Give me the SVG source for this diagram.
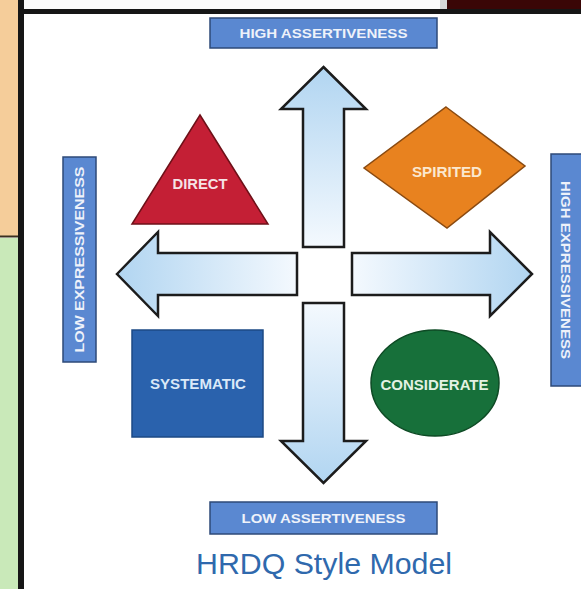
<svg xmlns="http://www.w3.org/2000/svg" width="581" height="589" viewBox="0 0 581 589">
  <style>
    .lbl { fill: #5a88d1; stroke: #2e4a78; stroke-width: 1.5; }
    .lt { font-family: "Liberation Sans", Arial, sans-serif; font-weight: bold; font-size: 13px; fill: #eef2fa; text-anchor: middle; }
    .arrow { stroke: #1c1c1c; stroke-width: 2.5; stroke-linejoin: miter; }
    .st { font-family: "Liberation Sans", Arial, sans-serif; font-weight: bold; font-size: 14px; text-anchor: middle; }
  </style>
  <defs>
    <linearGradient id="gUp" x1="0" y1="1" x2="0" y2="0">
      <stop offset="0" stop-color="#f4f9fe"/>
      <stop offset="1" stop-color="#b1d5f1"/>
    </linearGradient>
    <linearGradient id="gDown" x1="0" y1="0" x2="0" y2="1">
      <stop offset="0" stop-color="#f4f9fe"/>
      <stop offset="1" stop-color="#b1d5f1"/>
    </linearGradient>
    <linearGradient id="gLeft" x1="1" y1="0" x2="0" y2="0">
      <stop offset="0" stop-color="#f4f9fe"/>
      <stop offset="1" stop-color="#b1d5f1"/>
    </linearGradient>
    <linearGradient id="gRight" x1="0" y1="0" x2="1" y2="0">
      <stop offset="0" stop-color="#f4f9fe"/>
      <stop offset="1" stop-color="#b1d5f1"/>
    </linearGradient>
  </defs>

  <!-- background and frame -->
  <rect x="0" y="0" width="581" height="589" fill="#ffffff"/>
  <rect x="0" y="0" width="18" height="236" fill="#f5cd9a"/>
  <rect x="0" y="238" width="18" height="351" fill="#c9e9b9"/>
  <rect x="0" y="235.5" width="18" height="2" fill="#3a3020"/>
  <rect x="24" y="0" width="416" height="9" fill="#fbfbfb"/>
  <rect x="440" y="0" width="7" height="12" fill="#d8d8d8"/>
  <rect x="447" y="0" width="134" height="12" fill="#3a0606"/>
  <rect x="18" y="9" width="563" height="5" fill="#161616"/>
  <rect x="18" y="0" width="6" height="589" fill="#161616"/>

  <!-- axis labels -->
  <g id="high-assertiveness">
    <rect class="lbl" x="210" y="18" width="227" height="30"/>
    <text class="lt" x="323.5" y="38" textLength="168" lengthAdjust="spacingAndGlyphs">HIGH ASSERTIVENESS</text>
  </g>
  <g id="low-assertiveness">
    <rect class="lbl" x="210" y="502" width="227" height="32"/>
    <text class="lt" x="323.5" y="523" textLength="164" lengthAdjust="spacingAndGlyphs">LOW ASSERTIVENESS</text>
  </g>
  <g id="low-expressiveness">
    <rect class="lbl" x="63" y="157" width="33" height="205"/>
    <text class="lt" transform="translate(84,259.5) rotate(-90)" x="0" y="0" textLength="186" lengthAdjust="spacingAndGlyphs">LOW EXPRESSIVENESS</text>
  </g>
  <g id="high-expressiveness">
    <rect class="lbl" x="551" y="154" width="33" height="232"/>
    <text class="lt" transform="translate(561,270) rotate(90)" x="0" y="0" textLength="178" lengthAdjust="spacingAndGlyphs">HIGH EXPRESSIVENESS</text>
  </g>

  <!-- connectors (arrows) -->
  <g id="arrows">
    <polygon class="arrow" fill="url(#gUp)" points="323.5,67 366,109 344,109 344,247 303,247 303,109 281,109"/>
    <polygon class="arrow" fill="url(#gDown)" points="303,303 344,303 344,441 366,441 323.5,483 281,441 303,441"/>
    <polygon class="arrow" fill="url(#gLeft)" points="117,274 158,232 158,253 297,253 297,295 158,295 158,316"/>
    <polygon class="arrow" fill="url(#gRight)" points="352,253 490,253 490,232 532,274 490,316 490,295 352,295"/>
  </g>

  <!-- style nodes -->
  <g id="direct">
    <polygon points="200,115 268,224 132,224" fill="#c41f35" stroke="#6e1018" stroke-width="1.5"/>
    <text class="st" x="200" y="189" fill="#f6e3e6" textLength="55" lengthAdjust="spacingAndGlyphs">DIRECT</text>
  </g>
  <g id="spirited">
    <polygon points="446,107 525,166 447,228 364,168" fill="#e8821f" stroke="#8a4a10" stroke-width="1.5"/>
    <text class="st" x="447" y="177" fill="#fbe8cf" textLength="70" lengthAdjust="spacingAndGlyphs">SPIRITED</text>
  </g>
  <g id="systematic">
    <rect x="132" y="330" width="131" height="107" fill="#2a62ad" stroke="#1d4a85" stroke-width="1.5"/>
    <text class="st" x="198" y="389" fill="#dbe9f8" textLength="96" lengthAdjust="spacingAndGlyphs">SYSTEMATIC</text>
  </g>
  <g id="considerate">
    <ellipse cx="435" cy="383" rx="64" ry="53" fill="#17703a" stroke="#0d4a24" stroke-width="1.5"/>
    <text class="st" x="434.5" y="390" fill="#e3f2e3" textLength="108" lengthAdjust="spacingAndGlyphs">CONSIDERATE</text>
  </g>

  <g id="title">
    <text x="324" y="574" font-family="'Liberation Sans', Arial, sans-serif" font-size="29" fill="#2f69ad" text-anchor="middle" textLength="256" lengthAdjust="spacingAndGlyphs">HRDQ Style Model</text>
  </g>
</svg>
